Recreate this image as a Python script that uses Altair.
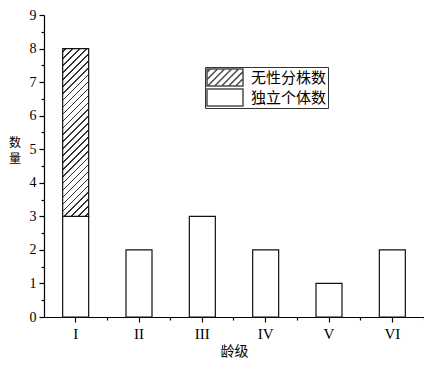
import altair as alt
import pandas as pd

categories = ["I", "II", "III", "IV", "V", "VI"]
independent = [3, 2, 3, 2, 1, 2]
clonal = [5, 0, 0, 0, 0, 0]
series_names = ["无性分株数", "独立个体数"]
y_title = ["数", "量"]
x_title = "龄级"
y_max = 9
y_ticks = list(range(0, y_max + 1))
y_minor = [i + 0.5 for i in range(y_max)]

rows = []
for c, a, b in zip(categories, independent, clonal):
    rows.append({"cat": c, "series": series_names[1], "value": a, "ord": 0})
    rows.append({"cat": c, "series": series_names[0], "value": b, "ord": 1})
df = pd.DataFrame(rows)
df = df[df["value"] > 0]

PLOT_W, PLOT_H = 380, 302
BAR_W = 26.0
step_px = PLOT_W / len(categories)
p_in = 1 - BAR_W / step_px
p_out = p_in / 2
minor_band_pos = 1 + p_out / (1 - p_in)

# diagonal hatch for the stacked segment: hard-stop linear gradient (SVG bbox units)
W, H = BAR_W, max(clonal) * PLOT_H / y_max
k = (W + H) / (W * W + H * H)
n = 28
half = 0.8 / (W + H)
ink = "#333333"
stops = [{"offset": 0, "color": "white"}]
for i in range(n):
    c = (i + 0.5) / n
    stops += [
        {"offset": c - half, "color": "white"},
        {"offset": c - half, "color": ink},
        {"offset": c + half, "color": ink},
        {"offset": c + half, "color": "white"},
    ]
stops.append({"offset": 1, "color": "white"})
hatch = {"gradient": "linear", "x1": 0, "y1": 0, "x2": k * W, "y2": k * H, "stops": stops}

# legend symbol shapes (unit box, 2 wide)
hh = 0.47
box_path = f"M-1,{-hh}H1V{hh}H-1Z"
segs = []
step = 0.39
cpos = -1 - 2 * hh + step / 2
while cpos < 1:
    t0 = max(0.0, -1 - cpos)
    t1 = min(2 * hh, 1 - cpos)
    if t1 > t0:
        segs.append(f"M{cpos + t0:.3f},{hh - t0:.3f}L{cpos + t1:.3f},{hh - t1:.3f}")
    cpos += step
hatch_path = box_path + "".join(segs)

serif = "Liberation Serif"
cjk = "Noto Sans CJK SC"

bars = alt.Chart(df).mark_bar(stroke="#111111", strokeWidth=1.2).encode(
    x=alt.X(
        "cat:N", sort=categories,
        scale=alt.Scale(paddingInner=p_in, paddingOuter=p_out),
        axis=alt.Axis(title=x_title, labelAngle=0, tickSize=5, labelPadding=4,
                      labelFontSize=15, titleFont=cjk, titleFontSize=14,
                      titleFontWeight="normal", titlePadding=3, titleColor="black"),
    ),
    y=alt.Y(
        "value:Q", stack="zero",
        scale=alt.Scale(domain=[0, y_max], nice=False),
        axis=alt.Axis(values=y_ticks, format="d", tickSize=5, labelPadding=3,
                      labelFontSize=14, title=None),
    ),
    detail="series:N",
    order=alt.Order("ord:Q"),
    fill=alt.when(alt.datum.series == series_names[0]).then(alt.value(hatch)).otherwise(alt.value("white")),
)

guide = alt.Chart(df).mark_point(
    filled=False, stroke="black", clip=True, size=1296, strokeWidth=1.2
).encode(
    x=alt.X("cat:N", sort=categories,
            axis=alt.Axis(bandPosition=minor_band_pos, labels=False, domain=False, tickSize=3,
                          title=None, orient="bottom")),
    y=alt.Y(datum=20,
            axis=alt.Axis(values=y_minor, labels=False, domain=False, tickSize=3,
                          title=None, orient="left")),
    shape=alt.Shape(
        "series:N",
        scale=alt.Scale(domain=series_names, range=[hatch_path, box_path]),
        legend=alt.Legend(
            title=None, orient="none", legendX=161, legendY=52,
            padding=1, strokeColor="#333333", fillColor="white",
            labelFont=cjk, labelFontSize=15, labelColor="black", labelOffset=7,
            labelLimit=200, symbolSize=1296, clipHeight=19, rowPadding=1,
        ),
    ),
)

t1 = alt.Chart(pd.DataFrame({"t": [0]})).mark_text(
    text=y_title[0], font=cjk, fontSize=12, align="center", baseline="middle", color="black",
).encode(x=alt.value(-29), y=alt.value(128))
t2 = alt.Chart(pd.DataFrame({"t": [0]})).mark_text(
    text=y_title[1], font=cjk, fontSize=12, align="center", baseline="middle", color="black",
).encode(x=alt.value(-29), y=alt.value(144))

chart = alt.layer(bars, guide, t1, t2).resolve_axis(x="independent", y="independent").properties(
    width=PLOT_W, height=PLOT_H, autosize="none",
    padding={"left": 36, "top": 7, "right": 0, "bottom": 43},
    background="white",
).configure_view(stroke=None).configure_axis(
    grid=False, domainColor="black", domainWidth=1.2, tickColor="black", tickWidth=1.2,
    labelFont=serif, labelColor="black",
)

chart.save("out.html", embed_options={"renderer": "svg", "actions": False})
